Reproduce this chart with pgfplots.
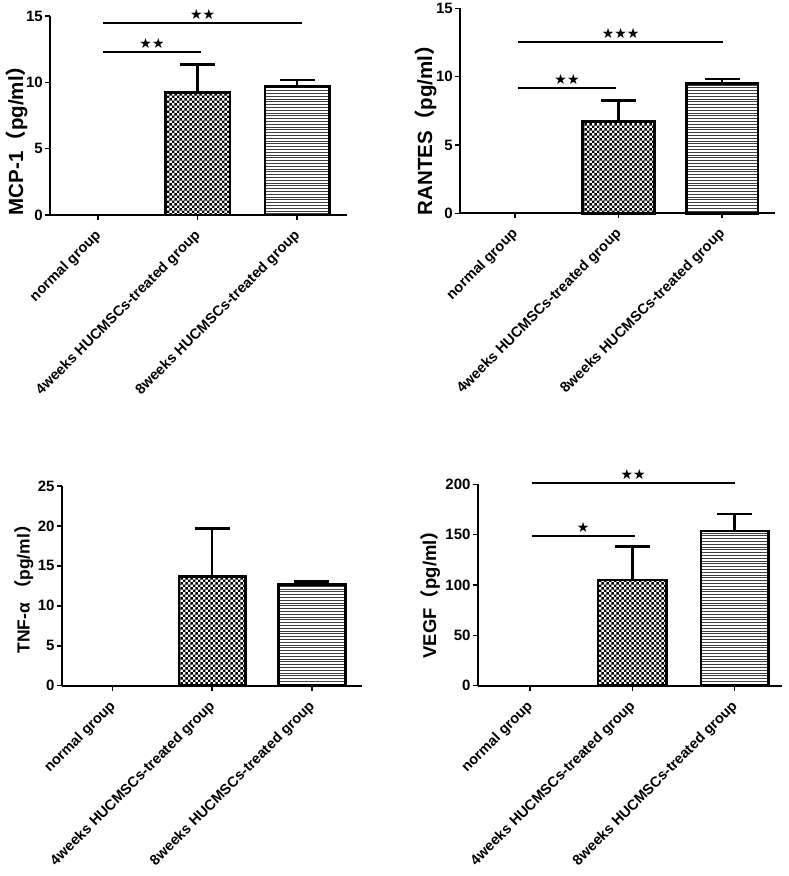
\documentclass[border=0pt]{standalone}
\usepackage{pgfplots}
\pgfplotsset{compat=1.18}
\usepackage{fontspec}
\setmainfont{Liberation Sans}
\newfontfamily\cjk{Noto Sans CJK SC}
\newfontfamily\djv{DejaVu Sans}
\usetikzlibrary{patterns}

\pgfdeclarepatternformonly{checker3}{\pgfpointorigin}{\pgfqpoint{5.4pt}{5.4pt}}{\pgfqpoint{5.4pt}{5.4pt}}{%
  \pgfpathrectangle{\pgfpointorigin}{\pgfqpoint{2.7pt}{2.7pt}}%
  \pgfpathrectangle{\pgfqpoint{2.7pt}{2.7pt}}{\pgfqpoint{2.7pt}{2.7pt}}%
  \pgfusepath{fill}}
\pgfdeclarepatternformonly{hlines}{\pgfqpoint{-0.1pt}{0pt}}{\pgfqpoint{10.1pt}{2.8pt}}{\pgfqpoint{10pt}{2.8pt}}{%
  \pgfsetlinewidth{0.7pt}%
  \pgfpathmoveto{\pgfqpoint{-0.1pt}{1.4pt}}%
  \pgfpathlineto{\pgfqpoint{10.1pt}{1.4pt}}%
  \pgfusepath{stroke}}

\tikzset{
  sig/.style={line width=1.8pt},
  stars/.style={midway, above, inner sep=2.5pt, font=\djv\fontsize{14}{14}\selectfont},
}
\pgfplotsset{
  panel/.style={
    scale only axis, anchor=south west, clip=false,
    axis x line=bottom, axis y line=left,
    axis line style={line width=1.8pt, -},
    tick style={line width=1.5pt, black},
    tick align=outside, major tick length=5pt,
    xtick={0,1,2},
    xticklabels={normal group, 4weeks HUCMSCs-treated group, 8weeks HUCMSCs-treated group},
    xticklabel style={rotate=45, anchor=north east, inner sep=1pt, xshift=-7.8pt, yshift=-2pt, font=\bfseries\fontsize{14.5}{15}\selectfont},
    yticklabel style={font=\bfseries\fontsize{15}{16}\selectfont, inner sep=2pt},
    ylabel style={font=\bfseries\fontsize{20.5}{22}\selectfont},
    /pgf/number format/assume math mode=true,
    ymin=0,
  },
  checkbar/.style={ybar, bar shift=0pt, draw=black, line width=2.6pt, pattern=checker3, pattern color=black},
  linebar/.style={ybar, bar shift=0pt, draw=black, line width=2.6pt, pattern=hlines, pattern color=black!75},
  errs/.style={error bars/.cd, y dir=plus, y explicit, error mark=|,
    error bar style={line width=2.5pt, black},
    error mark options={line width=2.5pt, mark size=17.5pt, black}},
}

\begin{document}
\begin{tikzpicture}
\path[use as bounding box] (0,0) rectangle (789pt,-876pt);

% MCP-1
\begin{axis}[panel, at={(50pt,-215pt)}, width=297pt, height=199pt,
  xmin=-0.482, xmax=2.5, ymax=15, ytick={0,5,10,15},
  ylabel={MCP-1{\cjk （}pg/ml{\cjk ）}},
  ylabel style={at={(ticklabel cs:0.40,-7pt)}}]
\addplot[draw=none] coordinates {(0,0)};
\addplot[checkbar, bar width=0.65, errs] coordinates {(1,9.22) +- (0,2.14)};
\addplot[linebar, bar width=0.65, errs] coordinates {(2,9.67) +- (0,0.50)};
\draw[sig] (axis cs:0.05,12.3) -- (axis cs:1.035,12.3) node[stars] {★★};
\draw[sig] (axis cs:0.05,14.5) -- (axis cs:2.05,14.5) node[stars] {★★};
\end{axis}

% RANTES
\begin{axis}[panel, at={(460pt,-213.3pt)}, width=315pt, height=205pt,
  xmin=-0.53, xmax=2.51, ymax=15, ytick={0,5,10,15},
  ylabel={RANTES{\cjk （}pg/ml{\cjk ）}},
  ylabel style={at={(ticklabel cs:0.43,-6pt)}}]
\addplot[draw=none] coordinates {(0,0)};
\addplot[checkbar, bar width=0.69, errs] coordinates {(1,6.70) +- (0,1.54)};
\addplot[linebar, bar width=0.69, errs] coordinates {(2,9.51) +- (0,0.31)};
\draw[sig] (axis cs:0.03,9.19) -- (axis cs:0.976,9.19) node[stars] {★★};
\draw[sig] (axis cs:0.03,12.51) -- (axis cs:2.01,12.51) node[stars] {★★★};
\end{axis}

% TNF-alpha
\begin{axis}[panel, at={(61.7pt,-685.7pt)}, width=300pt, height=199.7pt,
  xmin=-0.51, xmax=2.5, ymax=25, ytick={0,5,10,15,20,25},
  ylabel={TNF-α {\cjk （}pg/ml{\cjk ）}},
  ylabel style={at={(ticklabel cs:0.505,-1pt)}, font=\bfseries\fontsize{17.5}{19}\selectfont}]
\addplot[draw=none] coordinates {(0,0)};
\addplot[checkbar, bar width=0.67, errs] coordinates {(1,13.65) +- (0,6.05)};
\addplot[linebar, bar width=0.67, errs] coordinates {(2,12.64) +- (0,0.43)};
\end{axis}

% VEGF
\begin{axis}[panel, at={(477.7pt,-685.7pt)}, width=304pt, height=201.4pt,
  xmin=-0.51, xmax=2.46, ymax=200, ytick={0,50,100,150,200},
  ylabel={VEGF{\cjk （}pg/ml{\cjk ）}},
  ylabel style={at={(ticklabel cs:0.475)}, font=\bfseries\fontsize{18.5}{20}\selectfont}]
\addplot[draw=none] coordinates {(0,0)};
\addplot[checkbar, bar width=0.67, errs] coordinates {(1,105) +- (0,33)};
\addplot[linebar, bar width=0.66, errs] coordinates {(2,153.6) +- (0,16.9)};
\draw[sig] (axis cs:0.017,148.4) -- (axis cs:1.024,148.4) node[stars] {★};
\draw[sig] (axis cs:0.017,201.6) -- (axis cs:2.0,201.6) node[stars] {★★};
\end{axis}
\end{tikzpicture}
\end{document}
